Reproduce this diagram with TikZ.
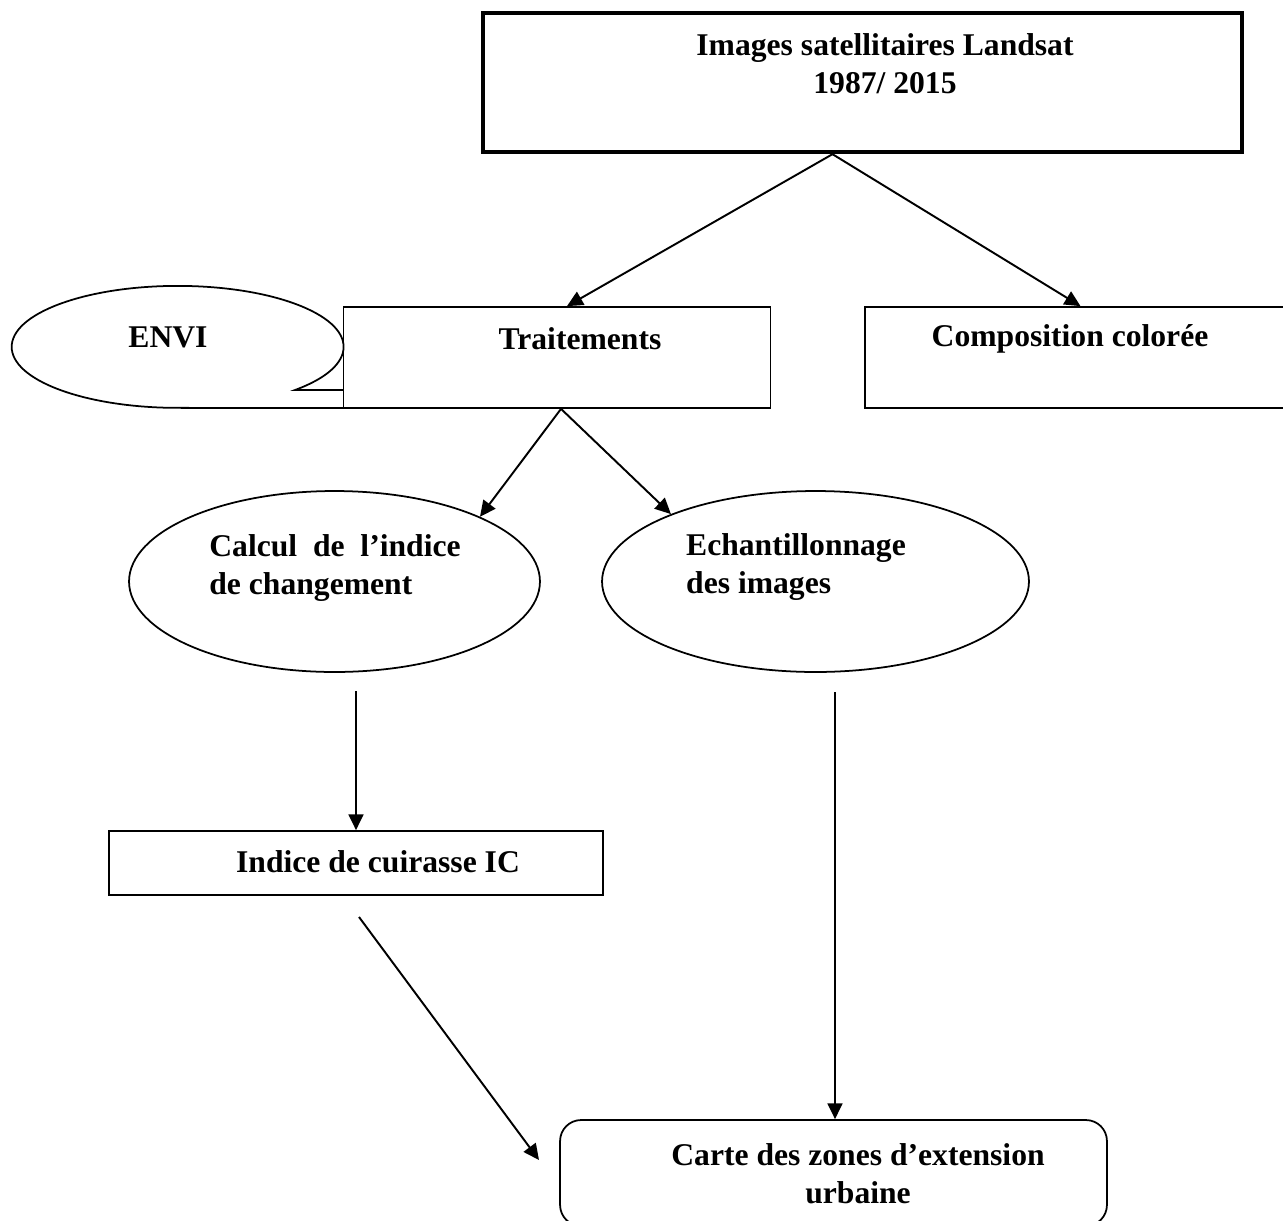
\documentclass[tikz,border=0pt]{standalone}
\usepackage{fontspec}
\setmainfont{Liberation Serif}
\usetikzlibrary{shapes.geometric,arrows.meta,positioning,calc}

\begin{document}
\begin{tikzpicture}[x=0.02cm,y=-0.02cm]
  \tikzstyle{boite}=[rectangle,draw,line width=1pt,inner sep=0pt]
  \tikzstyle{ovale}=[ellipse,draw,line width=1pt,inner sep=0pt]
  \tikzstyle{texte}=[inner sep=0pt,font=\fontsize{18pt}{21.5pt}\selectfont\bfseries]
  \tikzstyle{fleche}=[line width=1.1pt,-{Triangle[length=9pt,width=8.5pt]}]
  \useasboundingbox (0,0) rectangle (1283,1220);
  % bulle ENVI
  \draw[line width=1pt] (343,390) -- (295,390) arc[start angle=-45,end angle=270,x radius=3.32cm,y radius=1.22cm] -- (343,408);
  % boites
  \node[boite,line width=2.5pt,minimum width=15.18cm,minimum height=2.78cm] (images) at (862.5,82.5) {};
  \node[boite,minimum width=8.54cm,minimum height=2.02cm] (traitements) at (557,357.5) {};
  \node[boite,minimum width=8.7cm,minimum height=2.02cm] (composition) at (1082.5,357.5) {};
  \node[ovale,minimum width=8.22cm,minimum height=3.62cm] (calcul) at (334.5,581.5) {};
  \node[ovale,minimum width=8.54cm,minimum height=3.62cm] (echant) at (815.5,581.5) {};
  \node[boite,minimum width=9.88cm,minimum height=1.28cm] (indice) at (356,863) {};
  \node[boite,rounded corners=12pt,minimum width=10.94cm,minimum height=2.12cm] (carte) at (833.5,1173) {};
  % textes
  \node[texte,align=center] (t-images) at (885,64) {Images satellitaires Landsat\\1987/ 2015};
  \node[texte] (t-envi) at (168,337) {ENVI};
  \node[texte] (t-traitements) at (580,339) {Traitements};
  \node[texte] (t-composition) at (1070,339) {Composition colorée};
  \node[texte,align=left] (t-calcul) at (335,568) {Calcul\enspace de\enspace l’indice\\de changement};
  \node[texte,align=left] (t-echant) at (796,567) {Echantillonnage\\des images};
  \node[texte] (t-indice) at (378,862) {Indice de cuirasse IC};
  \node[texte,align=center] (t-carte) at (858,1174) {Carte des zones d’extension\\urbaine};
  % fleches
  \coordinate (dep) at ($(images.south)+(-30,0)$);
  \coordinate (bas) at ($(traitements.south)+(4,0)$);
  \coordinate (c1) at (356,691);
  \coordinate (c2) at (835,692);
  \coordinate (c3) at (359,917);
  \coordinate (c4) at (539,1160);
  \draw[fleche] (dep) -- ($(traitements.north)+(10,0)$);
  \draw[fleche] (dep) -- ($(composition.north)+(-2,0)$);
  \draw[fleche] (bas) -- (calcul.24);
  \draw[fleche] (bas) -- (echant.155);
  \draw[fleche] (c1) -- (c1 |- indice.north);
  \draw[fleche] (c2) -- (c2 |- carte.north);
  \draw[fleche] (c3) -- (c4);
\end{tikzpicture}
\end{document}
